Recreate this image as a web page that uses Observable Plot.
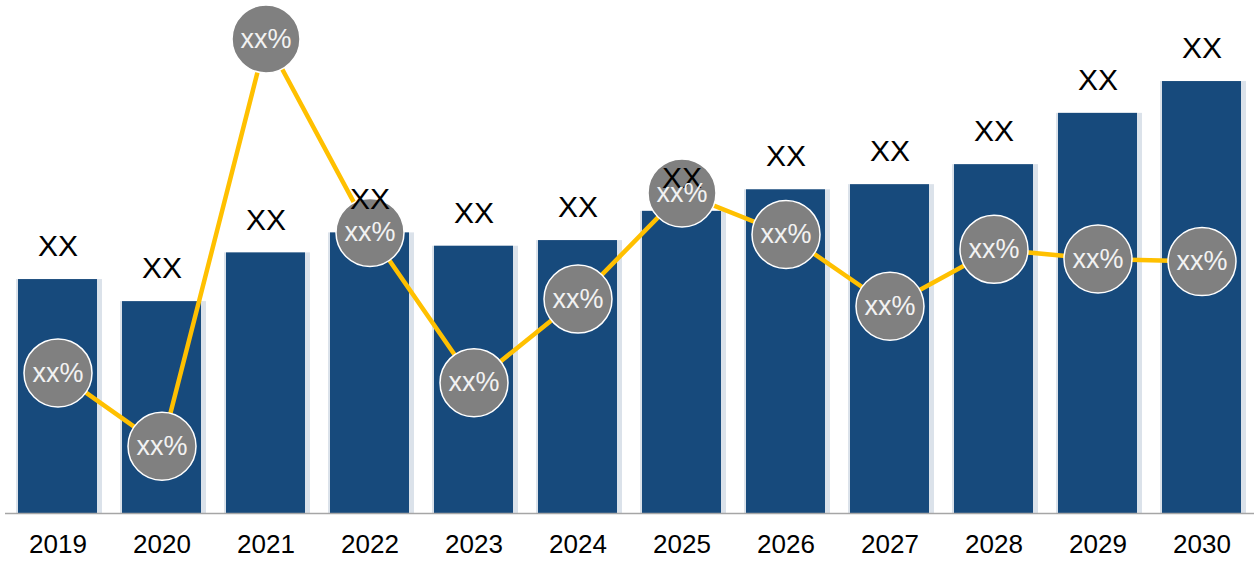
<!DOCTYPE html>
<html>
<head>
<meta charset="utf-8">
<script src="https://cdn.jsdelivr.net/npm/d3@7"></script>
<script src="https://cdn.jsdelivr.net/npm/@observablehq/plot@0.6"></script>
<style>
  html, body { margin: 0; padding: 0; background: #fff; }
  #chart { width: 1256px; height: 563px; overflow: hidden; }
</style>
</head>
<body>
<div id="chart"></div>
<script>
const years = ["2019","2020","2021","2022","2023","2024","2025","2026","2027","2028","2029","2030"];
const barValues = [45.6, 41.3, 50.8, 54.7, 52.1, 53.2, 58.9, 63.1, 64.1, 68.0, 78.0, 84.2];
const growthValues = [27.4, 13.1, 92.5, 54.8, 25.5, 41.8, 62.5, 54.4, 40.4, 51.5, 49.6, 49.1];
const barLabels = ["XX","XX","XX","XX","XX","XX","XX","XX","XX","XX","XX","XX"];
const growthLabels = ["xx%","xx%","xx%","xx%","xx%","xx%","xx%","xx%","xx%","xx%","xx%","xx%"];

const data = years.map((year, i) => ({
  year,
  value: barValues[i],
  growth: growthValues[i],
  label: barLabels[i],
  glabel: growthLabels[i]
}));

const font = "'Liberation Sans', Arial, Helvetica, sans-serif";

const chart = Plot.plot({
  width: 1256,
  height: 563,
  marginTop: 0,
  marginBottom: 50,
  marginLeft: 5,
  marginRight: 2,
  style: { fontFamily: font, color: "#000", background: "#fff" },
  x: { domain: years, paddingInner: 0.24, paddingOuter: 0.12, label: null },
  y: { domain: [0, 100], axis: null },
  marks: [
    Plot.barY(data, { x: "year", y: "value", fill: "#dbe2ea", insetLeft: -2, insetRight: -5 }),
    Plot.barY(data, { x: "year", y: "value", fill: "#174a7c" }),
    Plot.ruleY([0], { stroke: "#a6a6a6", strokeWidth: 1.5 }),
    Plot.axisX({ tickSize: 0, tickPadding: 21, fontSize: 26, fill: "#000" }),
    Plot.line(data, { x: "year", y: "growth", stroke: "#ffc000", strokeWidth: 4.5 }),
    Plot.dot(data, { x: "year", y: "growth", r: 34, fill: "#808080", stroke: "#fff", strokeWidth: 1.5 }),
    Plot.text(data, { x: "year", y: "value", text: "label", dy: -33, fontSize: 30, fill: "#000" }),
    Plot.text(data, { x: "year", y: "growth", text: "glabel", fontSize: 27, fill: "#f2f2f2" })
  ]
});

document.getElementById("chart").appendChild(chart);
</script>
</body>
</html>
